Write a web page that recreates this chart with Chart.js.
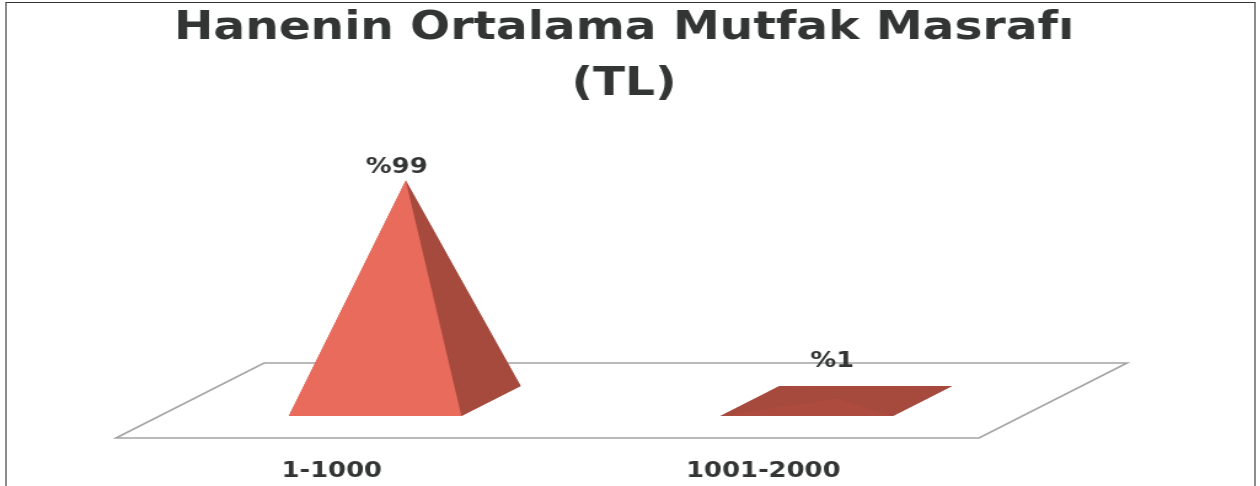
<!DOCTYPE html>
<html><head><meta charset="utf-8">
<script src="https://cdn.jsdelivr.net/npm/chart.js@4"></script>
<style>
html,body{margin:0;padding:0;background:#fff;width:1260px;height:486px;overflow:hidden}
#frame{position:absolute;left:5px;top:2px;width:1247px;height:484px;border:solid #8c8c8c;border-width:1px 2px 0 2px;border-top-color:#333;box-sizing:content-box}
#wrap{position:absolute;left:0;top:0;width:1015px;height:486px;transform-origin:0 0;transform:scaleX(1.2296);filter:blur(0.45px)}
</style></head><body>
<div id="frame"></div>
<div id="wrap"><canvas id="c" width="1015" height="486"></canvas></div>
<script>
const titleLines = ['Hanenin Ortalama Mutfak Masrafı', '(TL)'];
const categories = ['1-1000', '1001-2000'];
const percentValues = [99, 1];
const valueLabels = ['%99', '%1'];
const frontColors = ['#E96B5C', '#AD4B3E'];
const sideColors = ['#A64A3E', '#A64A3E'];

const FONT = '"DejaVu Sans"';
const TEXT = '#333535';
const K = 1.2296;               // the whole picture is widened by this factor
const FLOOR_DX = 148 / K, FLOOR_DY = -75;
const D_FRONT = 0.293, D_BACK = 0.693, D_MID = 0.5;
const LABEL_OFFSET = [[-9 / K, -13], [-5 / K, -37]];

function poly(ctx, pts, fill, stroke) {
  ctx.beginPath();
  pts.forEach((p, i) => i ? ctx.lineTo(p[0], p[1]) : ctx.moveTo(p[0], p[1]));
  ctx.closePath();
  if (fill) { ctx.fillStyle = fill; ctx.fill(); }
  if (stroke) { ctx.strokeStyle = stroke; ctx.lineWidth = 1.6; ctx.stroke(); }
}

const pyramid3d = {
  id: 'pyramid3d',
  beforeDatasetsDraw(chart) {
    const {ctx, chartArea: a} = chart;
    ctx.save();
    poly(ctx, [[a.left, a.bottom], [a.right, a.bottom],
      [a.right + FLOOR_DX, a.bottom + FLOOR_DY], [a.left + FLOOR_DX, a.bottom + FLOOR_DY]], null, '#a4a4a4');
    ctx.restore();
  },
  afterDatasetsDraw(chart) {
    const {ctx} = chart;
    const y = chart.scales.y, base = y.getPixelForValue(0);
    ctx.save();
    chart.getDatasetMeta(0).data.forEach((bar, i) => {
      const hw = bar.width / 2;
      const pt = (x, d) => [x + FLOOR_DX * d, base + FLOOR_DY * d];
      const fl = pt(bar.x - hw, D_FRONT), fr = pt(bar.x + hw, D_FRONT);
      const bl = pt(bar.x - hw, D_BACK), br = pt(bar.x + hw, D_BACK);
      const mid = pt(bar.x, D_MID);
      const apex = [mid[0], y.getPixelForValue(percentValues[i]) + FLOOR_DY * D_MID];
      poly(ctx, [fl, fr, br, bl], sideColors[i]);
      poly(ctx, [bl, br, apex], sideColors[i]);
      poly(ctx, [fl, bl, apex], sideColors[i]);
      poly(ctx, [fr, br, apex], sideColors[i]);
      poly(ctx, [fl, fr, apex], frontColors[i]);
      ctx.font = 'bold 21px ' + FONT;
      ctx.fillStyle = TEXT;
      ctx.textAlign = 'center';
      ctx.textBaseline = 'middle';
      ctx.fillText(valueLabels[i], apex[0] + LABEL_OFFSET[i][0], apex[1] + LABEL_OFFSET[i][1]);
    });
    ctx.restore();
  }
};

const hiddenAxis = (position, width) => ({
  position,
  min: 0,
  max: 100,
  grid: {display: false},
  border: {display: false},
  ticks: {display: false},
  afterFit(s) { s.width = width; }
});

new Chart(document.getElementById('c'), {
  type: 'bar',
  data: {
    labels: categories,
    datasets: [{
      data: percentValues,
      yAxisID: 'y',
      backgroundColor: 'rgba(0,0,0,0)',
      borderWidth: 0,
      barPercentage: 1,
      categoryPercentage: 0.4
    }]
  },
  plugins: [pyramid3d],
  options: {
    responsive: false,
    animation: false,
    layout: {padding: 0},
    plugins: {
      legend: {display: false},
      tooltip: {enabled: false},
      title: {
        display: true,
        text: titleLines,
        color: TEXT,
        font: {family: FONT, weight: 'bold', size: 38.3, lineHeight: 1.46},
        padding: {top: 1, bottom: 103}
      }
    },
    scales: {
      x: {
        grid: {display: false},
        border: {display: false},
        ticks: {color: TEXT, font: {family: FONT, weight: 'bold', size: 21}, padding: 13, maxRotation: 0},
        afterFit(s) { s.height = 48; }
      },
      y: hiddenAxis('left', 116 / K),
      yRight: hiddenAxis('right', 269 / K)
    }
  }
});
</script>
</body></html>
